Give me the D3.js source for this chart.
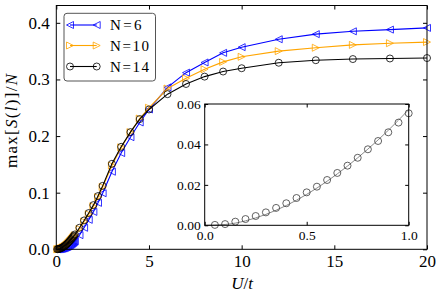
<!DOCTYPE html>
<html>
<head>
<meta charset="utf-8">
<script src="https://cdn.jsdelivr.net/npm/d3@7"></script>
<style>
  body { margin: 0; background: #fff; }
</style>
</head>
<body>
<div id="chart"></div>
<script>
// Data
const uValues = [0.05, 0.1, 0.15, 0.2, 0.25, 0.3, 0.35, 0.4, 0.45, 0.5,
                 0.55, 0.6, 0.65, 0.7, 0.75, 0.8, 0.85, 0.9, 0.95, 1.0,
                 1.25, 1.5, 1.75, 2, 2.25, 2.5, 3, 3.5, 4, 4.5, 5,
                 6, 7, 8, 9, 10, 12, 14, 16, 18, 20];
const n6Values = [0.0000, 0.0001, 0.0002, 0.0004, 0.0006, 0.0009, 0.0013, 0.0018, 0.0024, 0.0030,
                  0.0037, 0.0045, 0.0054, 0.0064, 0.0075, 0.0087, 0.0100, 0.0113, 0.0127, 0.0142,
                  0.025, 0.038, 0.052, 0.066, 0.082, 0.099, 0.137, 0.170, 0.198, 0.224, 0.247,
                  0.286, 0.312, 0.330, 0.347, 0.357, 0.371, 0.380, 0.385, 0.388, 0.391];
const n10Values = [0.0001, 0.0003, 0.0006, 0.0010, 0.0016, 0.0023, 0.0032, 0.0042, 0.0053, 0.0065,
                   0.0079, 0.0094, 0.0110, 0.0127, 0.0145, 0.0164, 0.0184, 0.0204, 0.0225, 0.0247,
                   0.036, 0.049, 0.062, 0.076, 0.092, 0.110, 0.148, 0.180, 0.207, 0.231, 0.250,
                   0.284, 0.302, 0.318, 0.331, 0.340, 0.350, 0.356, 0.361, 0.364, 0.366];
const n14Values = [0.0001, 0.0003, 0.0007, 0.0012, 0.0019, 0.0027, 0.0037, 0.0048, 0.0060, 0.0073,
                   0.0088, 0.0104, 0.0120, 0.0138, 0.0157, 0.0177, 0.0197, 0.0218, 0.0240, 0.0262,
                   0.038, 0.051, 0.064, 0.078, 0.094, 0.112, 0.151, 0.181, 0.207, 0.230, 0.247,
                   0.274, 0.292, 0.305, 0.314, 0.3198, 0.3295, 0.334, 0.336, 0.337, 0.3378];

const seriesNames = ["N=6", "N=10", "N=14"];

// inset: N=14, small U
const insetU = [0.05, 0.1, 0.15, 0.2, 0.25, 0.3, 0.35, 0.4, 0.45, 0.5,
                0.55, 0.6, 0.65, 0.7, 0.75, 0.8, 0.85, 0.9, 0.95, 1.0];
const insetValues = [0.0002, 0.0006, 0.0018, 0.0031, 0.0046, 0.0064, 0.0086, 0.0109, 0.0135, 0.0163,
                     0.0191, 0.0224, 0.0259, 0.0295, 0.0334, 0.0376, 0.0417, 0.0460, 0.0508, 0.0554];
const insetFitU = [0, 0.1, 0.2, 0.3, 0.4, 0.5, 0.6, 0.7, 0.8, 0.9, 1.0];
const insetFitValues = [0, 0.0004, 0.0022, 0.0054, 0.0098, 0.0153, 0.0218, 0.0293, 0.0377, 0.0470, 0.0572];

// Ticks
const xTicks = [0, 5, 10, 15, 20];
const yTicks = [0, 0.1, 0.2, 0.3, 0.4];
const insetXTicks = [0, 0.5, 1.0];
const insetYTicks = [0, 0.02, 0.04, 0.06];

// Styles
const colors = ["#0000ff", "#ffa500", "#000000"];
const markers = ["left", "right", "circle"];
const ms = 7;
const serif = "Liberation Serif";

const width = 436, height = 291;
const plot = { left: 56.3, top: 5.5, right: 427, bottom: 249.3 };
const inset = { left: 204.7, top: 104, right: 408.7, bottom: 225.3 };

const svg = d3.select("#chart").append("svg")
    .attr("width", width)
    .attr("height", height)
    .attr("font-family", serif);

const x = d3.scaleLinear().domain([0, 20]).range([plot.left, plot.right]);
const y = d3.scaleLinear().domain([0, 0.4306]).range([plot.bottom, plot.top]);

function markerPath(type, s) {
  const h = s / 2;
  if (type === "left") return `M${-h},0L${h},${-h}L${h},${h}Z`;
  if (type === "right") return `M${h},0L${-h},${-h}L${-h},${h}Z`;
  return d3.symbol(d3.symbolCircle, Math.PI * h * h)();
}

// frame with inward ticks on all four sides
function drawFrame(g, xs, ys, xt, yt, fmtX, fmtY, fontSize, tick, padX, padY) {
  const [x0, x1] = xs.range(), [y0, y1] = ys.range();
  const parts = [
    g.append("g").attr("transform", `translate(0,${y0})`)
      .call(d3.axisBottom(xs).tickValues(xt).tickSize(-tick).tickPadding(padX).tickFormat(fmtX)),
    g.append("g").attr("transform", `translate(0,${y1})`)
      .call(d3.axisTop(xs).tickValues(xt).tickSize(-tick).tickFormat("")),
    g.append("g").attr("transform", `translate(${x0},0)`)
      .call(d3.axisLeft(ys).tickValues(yt).tickSize(-tick).tickPadding(padY).tickFormat(fmtY)),
    g.append("g").attr("transform", `translate(${x1},0)`)
      .call(d3.axisRight(ys).tickValues(yt).tickSize(-tick).tickFormat(""))
  ];
  parts.forEach(a => {
    a.attr("font-family", serif).attr("font-size", fontSize);
    a.select(".domain").remove();
    a.selectAll("text").attr("fill", "#000").attr("font-family", serif);
    a.selectAll("line").attr("stroke", "#000");
  });
  g.append("rect")
      .attr("x", x0).attr("y", y1)
      .attr("width", x1 - x0).attr("height", y0 - y1)
      .attr("fill", "none").attr("stroke", "#000").attr("stroke-width", 1);
}

const main = svg.append("g");

// Series
const seriesValues = [n6Values, n10Values, n14Values];
const line = d3.line().x(d => x(d[0])).y(d => y(d[1]));

seriesValues.forEach((vals, i) => {
  const pts = uValues.map((u, j) => [u, vals[j]]);
  main.append("path")
      .datum(pts)
      .attr("d", line)
      .attr("fill", "none")
      .attr("stroke", colors[i])
      .attr("stroke-width", 1.1);
  main.selectAll(".m" + i)
      .data(pts)
      .enter().append("path")
      .attr("transform", d => `translate(${x(d[0])},${y(d[1])})`)
      .attr("d", markerPath(markers[i], ms))
      .attr("fill", "none")
      .attr("stroke", colors[i])
      .attr("stroke-width", 0.8);
});

drawFrame(main, x, y, xTicks, yTicks, d3.format("d"), d3.format(".1f"), "17px", 4, 6, 6.5);

// Axis labels
const xl = svg.append("text")
    .attr("x", 242).attr("y", 288.5)
    .attr("text-anchor", "middle")
    .attr("font-family", serif)
    .attr("font-size", "17px");
xl.append("tspan").attr("font-style", "italic").text("U");
xl.append("tspan").text("/");
xl.append("tspan").attr("font-style", "italic").text("t");

const yl = svg.append("text")
    .attr("transform", "translate(17,121) rotate(-90)")
    .attr("text-anchor", "middle")
    .attr("font-family", serif)
    .attr("font-size", "17px")
    .attr("textLength", 94)
    .attr("lengthAdjust", "spacing");
yl.append("tspan").text("max[");
yl.append("tspan").attr("font-style", "italic").text("S");
yl.append("tspan").text("(");
yl.append("tspan").attr("font-style", "italic").text("l");
yl.append("tspan").text(")]/");
yl.append("tspan").attr("font-style", "italic").text("N");

// Legend
const legend = svg.append("g");
legend.append("rect")
    .attr("x", 64).attr("y", 13.3)
    .attr("width", 91.5).attr("height", 67.7)
    .attr("rx", 3)
    .attr("fill", "#fff")
    .attr("stroke", "#555")
    .attr("stroke-width", 1);
const legendRows = [25, 45.5, 66.5];
const legendTextWidths = [31.5, 39, 39];
seriesNames.forEach((name, i) => {
  const ry = legendRows[i];
  legend.append("line")
      .attr("x1", 70).attr("x2", 96.7)
      .attr("y1", ry).attr("y2", ry)
      .attr("stroke", colors[i]).attr("stroke-width", 1.1);
  [70, 96.7].forEach(mx => {
    legend.append("path")
        .attr("transform", `translate(${mx},${ry})`)
        .attr("d", markerPath(markers[i], ms))
        .attr("fill", "none")
        .attr("stroke", colors[i])
        .attr("stroke-width", 0.8);
  });
  legend.append("text")
      .attr("x", 110).attr("y", ry + 5)
      .attr("font-family", serif)
      .attr("font-size", "15px")
      .attr("textLength", legendTextWidths[i])
      .attr("lengthAdjust", "spacing")
      .text(name);
});

// Inset
const ix = d3.scaleLinear().domain([0, 1]).range([inset.left, inset.right]);
const iy = d3.scaleLinear().domain([0, 0.06]).range([inset.bottom, inset.top]);
const ig = svg.append("g");
ig.append("rect")
    .attr("x", inset.left).attr("y", inset.top)
    .attr("width", inset.right - inset.left).attr("height", inset.bottom - inset.top)
    .attr("fill", "#fff");

const fitPts = insetFitU.map((u, j) => [u, insetFitValues[j]]);
ig.append("path")
    .datum(fitPts)
    .attr("d", d3.line().x(d => ix(d[0])).y(d => iy(d[1])).curve(d3.curveMonotoneX))
    .attr("fill", "none")
    .attr("stroke", "#8a8a8a")
    .attr("stroke-width", 1);

ig.selectAll(".ic")
    .data(insetU.map((u, j) => [u, insetValues[j]]))
    .enter().append("circle")
    .attr("cx", d => ix(d[0]))
    .attr("cy", d => iy(d[1]))
    .attr("r", ms / 2)
    .attr("fill", "none")
    .attr("stroke", "#3a3a3a")
    .attr("stroke-width", 0.8);

drawFrame(ig, ix, iy, insetXTicks, insetYTicks, d3.format(".1f"), d3.format(".2f"), "13.5px", 3.5, 5.5, 4);
</script>
</body>
</html>
